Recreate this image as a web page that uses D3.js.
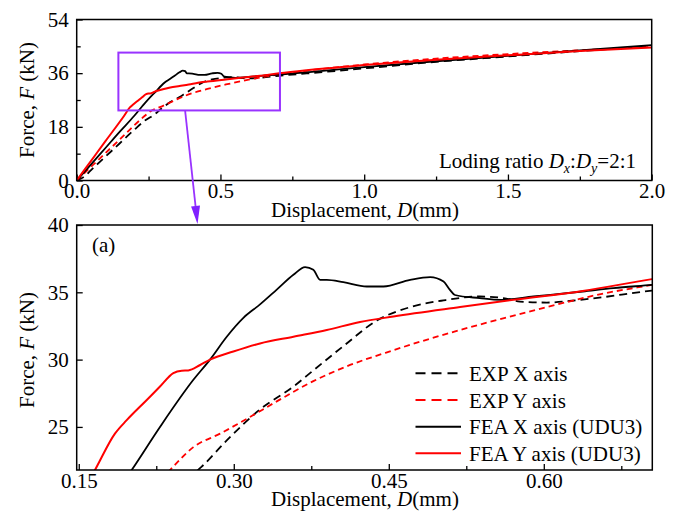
<!DOCTYPE html>
<html><head><meta charset="utf-8">
<script src="https://cdn.jsdelivr.net/npm/d3@7"></script>
<style>
body{margin:0;background:#fff}
svg{display:block}
text{font-family:"Liberation Serif","Times New Roman",serif;fill:#000}
</style>
</head><body>
<svg id="c" width="682" height="513"></svg>
<script>
// ---------- data (Force kN vs Displacement mm) ----------
const seriesNames = ["EXP X axis", "EXP Y axis", "FEA X axis (UDU3)", "FEA Y axis (UDU3)"];
const seriesColors = ["#000000", "#ff0000", "#000000", "#ff0000"];
const seriesDash = ["8,5", "6,4", null, null];

const expX = [[0,0],[0.03,1.6],[0.05,3.5],[0.1,8.0],[0.15,12.5],[0.2,17.0],[0.24,20.3],[0.269,22.05],[0.2932,24.0],[0.3254,26.3],[0.3577,28.0],[0.377,29.2],[0.406,31.0],[0.4384,32.9],[0.4707,33.9],[0.503,34.4],[0.538,34.69],[0.561,34.57],[0.577,34.31],[0.603,34.24],[0.6352,34.44],[0.7046,35.13],[0.8,35.9],[1.0,37.6],[1.25,39.8],[1.5,41.6],[1.75,43.4],[2.0,45.0]];
const expY = [[0,0],[0.05,4.6],[0.1,9.2],[0.15,13.8],[0.2,18.5],[0.2383,21.8],[0.2609,23.5],[0.2867,24.5],[0.3126,25.6],[0.3416,26.9],[0.377,28.4],[0.4094,29.5],[0.4545,30.7],[0.519,32.2],[0.538,32.6],[0.603,33.9],[0.651,34.8],[0.7046,35.55],[0.8,36.8],[1.0,38.9],[1.25,40.9],[1.5,42.4],[1.75,43.7],[2.0,44.8]];
const feaX = [[0,0],[0.05,5.4],[0.1,10.9],[0.15,16.4],[0.2012,21.8],[0.2286,25.0],[0.2609,28.5],[0.277,30.0],[0.2932,31.7],[0.3093,33.1],[0.3254,34.1],[0.3416,35.2],[0.3577,36.3],[0.369,36.87],[0.377,36.67],[0.3835,35.93],[0.39,35.93],[0.406,35.76],[0.4287,35.43],[0.4448,35.43],[0.4707,35.93],[0.49,36.13],[0.503,35.8],[0.509,35.2],[0.514,34.8],[0.538,34.57],[0.558,34.44],[0.59,34.69],[0.6376,35.06],[0.6675,35.31],[0.7046,35.55],[0.8,36.3],[1.0,38.0],[1.25,40.0],[1.5,41.8],[1.75,43.6],[2.0,45.4]];
const feaY = [[0,0],[0.05,6.6],[0.1,13.2],[0.1657,21.8],[0.185,24.5],[0.1964,25.5],[0.2158,27.0],[0.2286,28.0],[0.2415,29.0],[0.2496,29.18],[0.256,29.2],[0.2674,29.6],[0.277,30.0],[0.2996,30.6],[0.3254,31.2],[0.3577,31.7],[0.39,32.2],[0.4222,32.8],[0.4545,33.2],[0.519,33.9],[0.5707,34.44],[0.6376,35.1],[0.7046,35.98],[0.8,37.0],[1.0,38.7],[1.25,40.5],[1.5,42.0],[1.75,43.4],[2.0,44.6]];
const allSeries = [expX, expY, feaX, feaY];

// tick values
const topXTicks = [0, 0.5, 1.0, 1.5, 2.0];
const topXMinor = [0.25, 0.75, 1.25, 1.75];
const topYTicks = [0, 18, 36, 54];
const topYMinor = [9, 27, 45];
const botXTicks = [0.15, 0.30, 0.45, 0.60];
const botXMinor = [0.225, 0.375, 0.525, 0.675];
const botYTicks = [25, 30, 35, 40];
const botYMinor = [];

// zoom window shown in the top panel
const zoomBoxX = [0.145, 0.707];
const zoomBoxY = [23.5, 42.9];

const svg = d3.select("#c");
svg.append("rect").attr("width",682).attr("height",513).attr("fill","#fff");

const FS = 21;

function panel(id, xDom, yDom, xR, yR, xT, xM, yT, yM, xf, yf) {
  const x = d3.scaleLinear().domain(xDom).range(xR);
  const y = d3.scaleLinear().domain(yDom).range(yR);
  const g = svg.append("g");
  g.append("clipPath").attr("id", id).append("rect")
    .attr("x", xR[0]).attr("y", yR[1]).attr("width", xR[1]-xR[0]).attr("height", yR[0]-yR[1]);
  const ax = g.append("g").attr("transform", `translate(0,${yR[0]})`)
    .call(d3.axisBottom(x).tickValues(xT).tickSizeInner(-6).tickSizeOuter(0).tickPadding(3).tickFormat(d3.format(xf)));
  const axm = g.append("g").attr("transform", `translate(0,${yR[0]})`)
    .call(d3.axisBottom(x).tickValues(xM).tickSizeInner(-4).tickSizeOuter(0).tickFormat(""));
  const ay = g.append("g").attr("transform", `translate(${xR[0]},0)`)
    .call(d3.axisLeft(y).tickValues(yT).tickSizeInner(-6).tickSizeOuter(0).tickPadding(8).tickFormat(d3.format(yf)));
  const aym = g.append("g").attr("transform", `translate(${xR[0]},0)`)
    .call(d3.axisLeft(y).tickValues(yM).tickSizeInner(-4).tickSizeOuter(0).tickFormat(""));
  [ax, axm, ay, aym].forEach(a => {
    a.select(".domain").remove();
    a.selectAll("line").attr("stroke","#000").attr("stroke-width",1.3);
    a.selectAll("text").attr("font-size", FS).attr("font-family","Liberation Serif");
  });
  const line = d3.line().x(d => x(d[0])).y(d => y(d[1])).curve(d3.curveMonotoneX);
  const cg = g.append("g").attr("clip-path", `url(#${id})`);
  allSeries.forEach((s, i) => {
    cg.append("path").attr("d", line(s)).attr("fill","none")
      .attr("stroke", seriesColors[i]).attr("stroke-width", i===3 ? 2 : 1.8)
      .attr("stroke-dasharray", seriesDash[i]);
  });
  g.append("rect").attr("x", xR[0]).attr("y", yR[1]).attr("width", xR[1]-xR[0]).attr("height", yR[0]-yR[1])
    .attr("fill","none").attr("stroke","#000").attr("stroke-width",1.5);
  return {x, y, g};
}

const topP = panel("clipTop", [0, 2], [0, 54], [76.7, 651.7], [180.5, 19.5],
  topXTicks, topXMinor, topYTicks, topYMinor, ".1f", "d");
const botP = panel("clipBot", [0.148, 0.705], [21.8, 40], [76.7, 652.3], [470, 225],
  botXTicks, botXMinor, botYTicks, botYMinor, ".2f", "d");

function xTitle(yBase) {
  const t = svg.append("text").attr("x", 365).attr("y", yBase).attr("text-anchor","middle").attr("font-size", FS);
  t.append("tspan").text("Displacement, ");
  t.append("tspan").attr("font-style","italic").text("D");
  t.append("tspan").text("(mm)");
}
function yTitle(cy) {
  const t = svg.append("text").attr("transform", `translate(34,${cy}) rotate(-90)`).attr("text-anchor","middle").attr("font-size", FS);
  t.append("tspan").text("Force, ");
  t.append("tspan").attr("font-style","italic").text("F");
  t.append("tspan").text(" (kN)");
}
xTitle(217); xTitle(506);
yTitle(100); yTitle(350);

{
  const t = svg.append("text").attr("x", 636).attr("y", 168).attr("text-anchor","end").attr("font-size", FS);
  t.append("tspan").text("Loding ratio ");
  t.append("tspan").attr("font-style","italic").text("D");
  t.append("tspan").attr("font-style","italic").attr("font-size", 14).attr("dy", 5).text("x");
  t.append("tspan").attr("dy", -5).text(":");
  t.append("tspan").attr("font-style","italic").text("D");
  t.append("tspan").attr("font-style","italic").attr("font-size", 14).attr("dy", 5).text("y");
  t.append("tspan").attr("dy", -5).text("=2:1");
}

svg.append("text").attr("x", 92).attr("y", 252).attr("font-size", FS).text("(a)");

const purple = "#9933ff";
svg.append("rect")
  .attr("x", topP.x(zoomBoxX[0])).attr("y", topP.y(zoomBoxY[1]))
  .attr("width", topP.x(zoomBoxX[1]) - topP.x(zoomBoxX[0]))
  .attr("height", topP.y(zoomBoxY[0]) - topP.y(zoomBoxY[1]))
  .attr("fill","none").attr("stroke", purple).attr("stroke-width", 2);
{
  const x0 = topP.x(0.377), y0 = topP.y(zoomBoxY[0]);
  const x1 = 197.5, y1 = 224;
  const ang = Math.atan2(y1 - y0, x1 - x0);
  const L = 18, W = 4.5;
  const bx = x1 - L*Math.cos(ang), by = y1 - L*Math.sin(ang);
  svg.append("line").attr("x1", x0).attr("y1", y0).attr("x2", bx).attr("y2", by)
    .attr("stroke", purple).attr("stroke-width", 1.8);
  const px = -Math.sin(ang), py = Math.cos(ang);
  svg.append("polygon")
    .attr("points", [[x1,y1],[bx+W*px,by+W*py],[bx-W*px,by-W*py]].map(p=>p.join(",")).join(" "))
    .attr("fill", "#8020ff");
}

{
  const lx0 = 415.5, lx1 = 461, rows = [373.3, 400, 426.7, 453.3];
  seriesNames.forEach((n, i) => {
    svg.append("line").attr("x1", lx0).attr("x2", lx1).attr("y1", rows[i]).attr("y2", rows[i])
      .attr("stroke", seriesColors[i]).attr("stroke-width", 2)
      .attr("stroke-dasharray", seriesDash[i] ? "10,6" : null);
    svg.append("text").attr("x", 469).attr("y", rows[i] + 7.5).attr("font-size", FS).text(n);
  });
}
</script>
</body></html>
